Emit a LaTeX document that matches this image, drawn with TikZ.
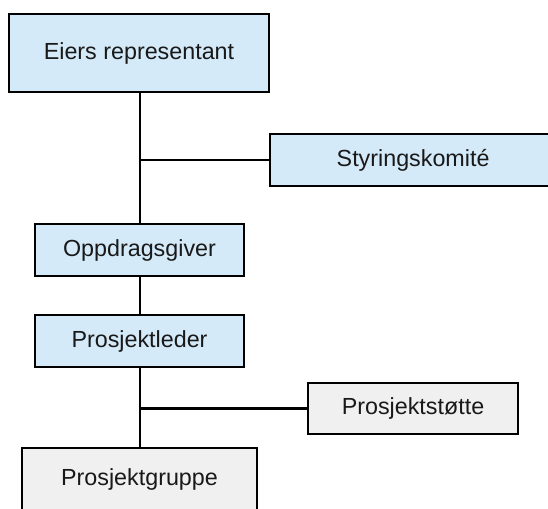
\documentclass[tikz,border=0pt]{standalone}
\usepackage{fontspec}
\setmainfont{Liberation Sans}
\begin{document}
\begin{tikzpicture}[x=1pt,y=-1pt,
  box/.style={draw=black,line width=2.2pt,inner sep=0pt,font=\fontsize{23.3}{27}\selectfont,text=black!90},
  bluebox/.style={box,fill=blueish},
  greybox/.style={box,fill=greyish},
  conn/.style={line width=2.2pt,draw=black}]
\definecolor{blueish}{HTML}{D4EAF8}
\definecolor{greyish}{HTML}{F0F0F0}
\useasboundingbox (0,0) rectangle (548,508);
\node[bluebox,minimum width=260pt,minimum height=78pt] (eier) at (139,53) {Eiers representant};
\node[bluebox,minimum width=288pt,minimum height=52pt,anchor=west] (styr) at (269,160) {\hspace*{-2pt}Styringskomité};
\node[bluebox,minimum width=209pt,minimum height=52pt] (opp) at (139.5,250) {Oppdragsgiver};
\node[bluebox,minimum width=209pt,minimum height=52pt] (pl) at (139.5,341) {Prosjektleder};
\node[greybox,minimum width=210pt,minimum height=51pt] (ps) at (413,408.5) {Prosjektstøtte};
\node[greybox,minimum width=235pt,minimum height=62pt] (pg) at (139.5,479) {Prosjektgruppe};
\coordinate (j1) at (140,160);
\coordinate (j2) at (140,408.5);
\draw[conn] (eier.south -| j1) -- (opp.north -| j1);
\draw[conn] (j1) -- (styr.west);
\draw[conn] (opp.south -| j1) -- (pl.north -| j1);
\draw[conn] (pl.south -| j1) -- (pg.north -| j1);
\draw[conn] (j2) -- (ps.west);
\end{tikzpicture}
\end{document}
